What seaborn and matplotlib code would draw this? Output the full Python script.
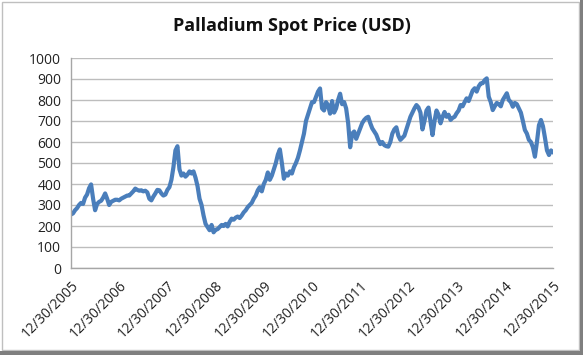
import numpy as np
import pandas as pd
import matplotlib
matplotlib.use("Agg")
import matplotlib.pyplot as plt
import matplotlib.dates as mdates
from matplotlib.patches import Rectangle
import seaborn as sns

# ---- data (semi-monthly readings of the spot price, USD) ----
start_value = [255]
y2006 = [260, 275, 285, 300, 310, 305, 335, 350, 380, 398, 330, 275,
         305, 315, 320, 335, 355, 330, 300, 315, 320, 325, 325, 322]
y2007 = [330, 335, 340, 345, 345, 355, 365, 378, 372, 368, 370, 365,
         368, 360, 330, 322, 340, 355, 372, 370, 355, 345, 350, 372]
y2008 = [385, 420, 480, 560, 580, 470, 440, 450, 435, 445, 460, 450,
         460, 430, 390, 330, 300, 250, 210, 195, 180, 205, 170, 182]
y2009 = [185, 195, 205, 200, 210, 198, 220, 235, 230, 240, 245, 238,
         250, 265, 275, 290, 300, 310, 330, 345, 370, 385, 365, 400]
y2010 = [420, 455, 420, 440, 470, 500, 540, 565, 500, 425, 450, 440,
         460, 450, 480, 500, 525, 560, 600, 640, 700, 730, 760, 790]
y2011 = [790, 815, 840, 855, 760, 750, 790, 775, 735, 795, 740, 760,
         800, 830, 780, 790, 760, 690, 575, 640, 650, 615, 640, 665]
y2012 = [690, 705, 715, 720, 690, 665, 650, 635, 610, 590, 600, 585,
         580, 578, 600, 640, 660, 670, 630, 610, 620, 630, 660, 690]
y2013 = [720, 740, 760, 776, 765, 740, 660, 700, 750, 764, 700, 633,
         700, 750, 730, 689, 720, 743, 720, 730, 705, 715, 720, 737]
y2014 = [750, 776, 770, 790, 808, 795, 820, 845, 856, 840, 865, 879,
         880, 895, 903, 816, 790, 752, 770, 786, 780, 770, 800, 816]
y2015 = [832, 800, 790, 768, 786, 780, 760, 740, 700, 657, 640, 610,
         600, 575, 530, 600, 680, 705, 675, 620, 560, 538, 560, 550]

prices = start_value + y2006 + y2007 + y2008 + y2009 + y2010 + y2011 + y2012 + y2013 + y2014 + y2015
dates = pd.date_range("2005-12-30", "2015-12-30", periods=len(prices))
tick_dates = pd.to_datetime([f"{y}-12-30" for y in range(2005, 2016)])
y_ticks = list(range(0, 1001, 100))
title = "Palladium Spot Price (USD)"

df = pd.DataFrame({"date": dates, "price": prices})

# ---- style ----
sns.set_style("white")
plt.rcParams["font.family"] = ["Open Sans", "DejaVu Sans"]

fig = plt.figure(figsize=(5.83, 3.55), dpi=100)
ax = fig.add_axes([71 / 583, 1 - 268 / 355, (553 - 71) / 583, (268 - 58) / 355])

sns.lineplot(data=df, x="date", y="price", ax=ax, color="#4a7ebb", linewidth=3.0)

ax.set_xlim(tick_dates[0], tick_dates[-1])
ax.set_ylim(0, 1000)
ax.set_yticks(y_ticks)
ax.set_xticks(tick_dates)
ax.xaxis.set_major_formatter(mdates.DateFormatter("%m/%d/%Y"))
ax.set_xlabel("")
ax.set_ylabel("")

ax.grid(axis="y", color="#bdbdbd", linewidth=1.0)
ax.set_axisbelow(True)
for s in ["top", "right"]:
    ax.spines[s].set_visible(False)
for s in ["left", "bottom"]:
    ax.spines[s].set_color("#a6a6a6")
    ax.spines[s].set_linewidth(1.0)

ax.tick_params(axis="both", which="major", length=4, width=1, color="#a6a6a6",
               labelsize=10, labelcolor="#222222", pad=3)
ax.tick_params(axis="x", direction="out")
ax.tick_params(axis="y", direction="out")
for lab in ax.get_xticklabels():
    lab.set_rotation(45)
    lab.set_ha("right")
    lab.set_rotation_mode("anchor")

fig.text(0.5, 1 - 26 / 355, title, ha="center", va="center",
         fontsize=13, fontweight="bold", color="#111111")

# ---- chart frame (Excel-like border with shadow) ----
fig.patches.append(Rectangle((2 / 583, 5 / 355), 577 / 583, 348 / 355, transform=fig.transFigure,
                             fill=False, edgecolor="#bfbfbf", linewidth=1.0))
fig.patches.append(Rectangle((0, 0), 1, 4 / 355, transform=fig.transFigure,
                             facecolor="#7f7f7f", edgecolor="none"))
fig.patches.append(Rectangle((580 / 583, 0), 3 / 583, 1, transform=fig.transFigure,
                             facecolor="#7f7f7f", edgecolor="none"))

fig.savefig("out.png", dpi=100)
